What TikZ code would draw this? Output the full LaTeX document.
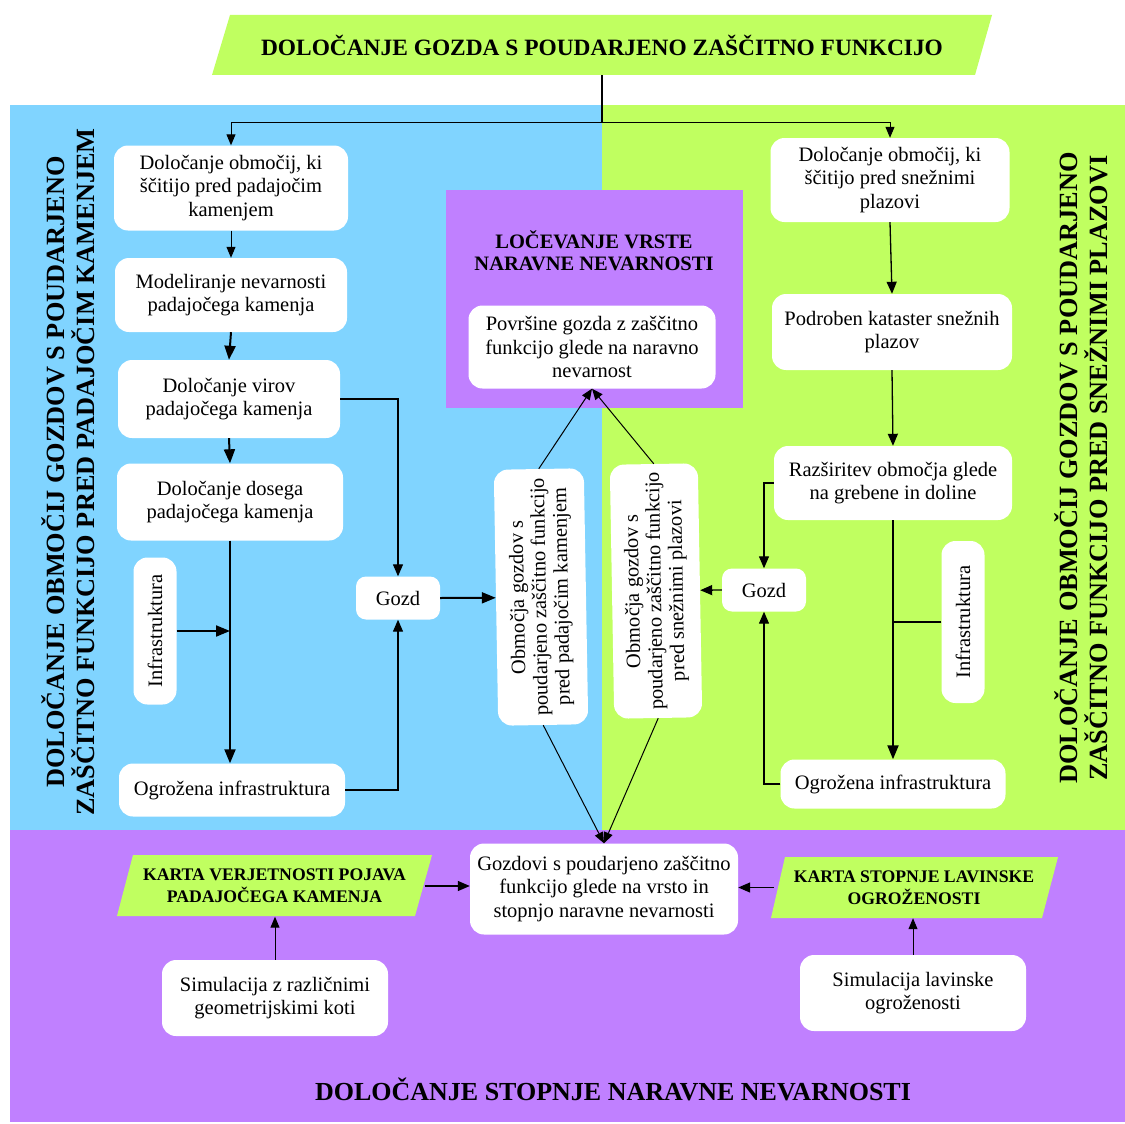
\documentclass[tikz,border=0pt]{standalone}
\usepackage{fontspec}
\setmainfont{Liberation Serif}
\usetikzlibrary{arrows.meta}
\definecolor{skyblue}{RGB}{128,212,255}
\definecolor{limegreen}{RGB}{192,255,96}
\definecolor{lilac}{RGB}{192,128,255}

\begin{document}
\begin{tikzpicture}[x=1pt,y=-1pt,
  txt/.style={font=\fontsize{20.5}{23.3}\selectfont, align=center, inner sep=0pt},
  wbox/.style={txt, fill=white, rounded corners=14pt},
  bigtitle/.style={font=\fontsize{23.4}{26}\selectfont\bfseries, align=center, inner sep=0pt},
  sidetitle/.style={font=\fontsize{26.3}{30}\selectfont\bfseries, align=center, inner sep=0pt, rotate=90},
  karta/.style={font=\fontsize{17.7}{22}\selectfont\bfseries, align=center, inner sep=0pt},
  thin/.style={line width=1pt, -{Triangle[length=11pt,width=9pt]}},
  mid/.style={line width=1.3pt, -{Triangle[length=12pt,width=10pt]}},
  thick/.style={line width=2pt, -{Triangle[length=14pt,width=11pt]}},
  plain/.style={line width=1.3pt}]

\useasboundingbox (0,0) rectangle (1125,1124);

% background panels
\fill[skyblue] (10,105) rectangle (602,830);
\fill[limegreen] (602,105) rectangle (1125,830);
\fill[lilac] (10,830) rectangle (1125,1122);

% header parallelogram
\fill[limegreen] (230,15) -- (992,15) -- (975,75) -- (212,75) -- cycle;
\node[bigtitle, minimum width=763pt, minimum height=60pt] (hdr) at (602,45)
  {DOLOČANJE GOZDA S POUDARJENO ZAŠČITNO FUNKCIJO};

% side titles
\node[sidetitle] (sideL) at (68,472)
  {DOLOČANJE OBMOČIJ GOZDOV S POUDARJENO\\ZAŠČITNO FUNKCIJO PRED PADAJOČIM KAMENJEM};
\node[sidetitle] (sideR) at (1081,468)
  {DOLOČANJE OBMOČIJ GOZDOV S POUDARJENO\\ZAŠČITNO FUNKCIJO PRED SNEŽNIMI PLAZOVI};

% rockfall column
\node[wbox, minimum width=234pt, minimum height=85pt] (L1) at (231,188)
  {Določanje območij, ki\\ščitijo pred padajočim\\kamenjem};
\node[wbox, minimum width=232pt, minimum height=74pt] (L2) at (231,295)
  {Modeliranje nevarnosti\\padajočega kamenja};
\node[wbox, minimum width=222pt, minimum height=78pt] (L3) at (229,399)
  {Določanje virov\\padajočega kamenja};
\node[wbox, minimum width=226pt, minimum height=77pt] (L4) at (230,502)
  {Določanje dosega\\padajočega kamenja};
\node[wbox, rotate=90, minimum width=147pt, minimum height=43pt] (infL) at (155,631)
  {Infrastruktura};
\node[wbox, minimum width=226pt, minimum height=53pt] (ogrL) at (232,790)
  {Ogrožena infrastruktura};
\node[wbox, rounded corners=10pt, minimum width=84pt, minimum height=43pt] (gozdL) at (398,598)
  {Gozd};

% hazard type block
\node[fill=lilac, inner sep=0pt, minimum width=297pt, minimum height=218pt] (lv) at (594.5,299) {};
\node[font=\fontsize{20.5}{22}\selectfont\bfseries, align=center, inner sep=0pt] (lvt) at (594,251)
  {LOČEVANJE VRSTE\\NARAVNE NEVARNOSTI};
\node[wbox, minimum width=247pt, minimum height=83pt] (pov) at (592,347)
  {Površine gozda z zaščitno\\funkcijo glede na naravno\\nevarnost};

\node[wbox, font=\fontsize{20.5}{22}\selectfont, rotate=91, minimum width=256pt, minimum height=90pt] (c1) at (541,597)
  {Območja gozdov s\\poudarjeno zaščitno funkcijo\\pred padajočim kamenjem};
\node[wbox, font=\fontsize{20.5}{22}\selectfont, rotate=91, minimum width=254pt, minimum height=88pt] (c2) at (656,591)
  {Območja gozdov s\\poudarjeno zaščitno funkcijo\\pred snežnimi plazovi};

% avalanche column
\node[wbox, minimum width=239pt, minimum height=84pt] (R1) at (890,180)
  {Določanje območij, ki\\ščitijo pred snežnimi\\plazovi};
\node[wbox, minimum width=240pt, minimum height=76pt] (R2) at (892,332)
  {Podroben kataster snežnih\\plazov};
\node[wbox, minimum width=238pt, minimum height=74pt] (R3) at (893,483)
  {Razširitev območja glede\\na grebene in doline};
\node[wbox, rotate=90, minimum width=162pt, minimum height=43pt] (infR) at (963,622)
  {Infrastruktura};
\node[wbox, minimum width=225pt, minimum height=49pt] (ogrR) at (893,784)
  {Ogrožena infrastruktura};
\node[wbox, rounded corners=10pt, minimum width=84pt, minimum height=43pt] (gozdR) at (764,590)
  {Gozd};

% hazard degree block
\node[wbox, minimum width=268pt, minimum height=91pt] (cB) at (604,889)
  {Gozdovi s poudarjeno zaščitno\\funkcijo glede na vrsto in\\stopnjo naravne nevarnosti};
\fill[limegreen] (133,855) -- (432,855) -- (415,916) -- (117,916) -- cycle;
\node[karta, minimum width=300pt, minimum height=61pt] (kL) at (274.5,886)
  {KARTA VERJETNOSTI POJAVA\\PADAJOČEGA KAMENJA};
\fill[limegreen] (785,857) -- (1058,857) -- (1042,918) -- (771,918) -- cycle;
\node[karta, minimum width=280pt, minimum height=61pt] (kR) at (914,887.5)
  {KARTA STOPNJE LAVINSKE\\OGROŽENOSTI};
\node[wbox, minimum width=226pt, minimum height=76pt] (simL) at (275,998)
  {Simulacija z različnimi\\geometrijskimi koti};
\node[wbox, minimum width=226pt, minimum height=76pt] (simR) at (913,993)
  {Simulacija lavinske\\ogroženosti};
\node[bigtitle, font=\fontsize{26}{28}\selectfont\bfseries] (bt) at (613,1089)
  {DOLOČANJE STOPNJE NARAVNE NEVARNOSTI};

% connectors: header split
\coordinate (split) at (602,122);
\draw[line width=1.2pt] (hdr.south) -- (split);
\draw[thin] (split) -| (L1.north);
\draw[thin] (split) -| (R1.north);

% rockfall chain
\draw[thin] (L1.south) -- (L2.north);
\draw[thick] (L2.south) -- (L3.north);
\draw[thick] (L3.south) -- (L4.north);
\draw[thick] (L4.south) -- (L4.south |- ogrL.north);
\draw[thick] (infL.south) -- (infL.south -| L4.south);
\draw[mid] (L3.east) -| (gozdL.north);
\draw[mid] (ogrL.east) -| (gozdL.south);
\draw[thick] (gozdL.east) -- (c1.north);

% avalanche chain
\draw[mid] (R1.south) -- (R2.north);
\draw[mid] (R2.south) -- (R3.north);
\draw[thick] (R3.south) -- (ogrR.north);
\draw[plain] (infR.north) -- (infR.north -| R3.south);
\draw[mid] (R3.west) -| (gozdR.north);
\draw[mid] (ogrR.west) -| (gozdR.south);
\draw[mid] (gozdR.west) -- (c2.south);

% towards hazard type and hazard degree
\draw[thin] (c1.east) -- (pov.south);
\draw[thin] (c2.east) -- (pov.south);
\draw[thin] (c1.west) -- (cB.north);
\draw[thin] (c2.west) -- (cB.north);

% maps
\draw[mid] (kL.east) -- (kL.east -| cB.west);
\draw[mid] (kR.west) -- (kR.west -| cB.east);
\draw[thin] (simL.north) -- (simL.north |- kL.south);
\draw[thin] (simR.north) -- (simR.north |- kR.south);
\end{tikzpicture}
\end{document}
